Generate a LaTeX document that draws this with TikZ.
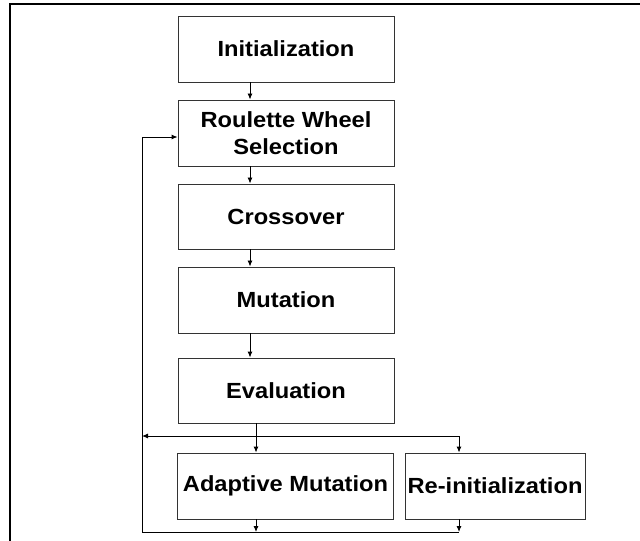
\documentclass[tikz,border=0pt]{standalone}
\usepackage{fontspec}
\setmainfont[FakeStretch=1.08]{Liberation Sans}
\usetikzlibrary{arrows.meta}
\begin{document}
\begin{tikzpicture}[x=1bp,y=-1bp,
  box/.style={draw=black!80, line width=0.9bp, inner sep=0pt, align=center,
    font=\fontsize{22}{27}\selectfont\bfseries, minimum height=66bp},
  mainbox/.style={box, minimum width=216bp},
  conn/.style={draw=black, line width=0.9bp},
  arr/.style={conn, -{Latex[length=6bp,width=5bp]}},
  frameline/.style={draw=black, line width=1.6bp}]
\useasboundingbox (0,0) rectangle (640,541);
\draw[frameline] (10,541) -- (10,4) -- (640,4);

\node[mainbox] (init) at (286,49) {Initialization};
\node[mainbox] (rws) at (286,133) {Roulette Wheel\\Selection};
\node[mainbox, minimum height=65bp] (cross) at (286,216.5) {Crossover};
\node[mainbox] (mut) at (286,300) {Mutation};
\node[mainbox, minimum height=65bp] (eval) at (286,390.5) {Evaluation};
\node[mainbox] (adapt) at (285.5,486) {Adaptive Mutation};
\node[box, minimum width=180bp] (reinit) at (495,486) {Re-initialization};

\coordinate (cx) at (250,0);
\coordinate (sp) at (256,436);
\coordinate (lj) at (142,436);
\coordinate (rj) at (459,436);
\coordinate (b1) at (256,532);
\coordinate (b2) at (459,532);
\coordinate (bl) at (142,532);
\coordinate (lt) at (142,137);

\draw[arr] (init.south -| cx) -- (rws.north -| cx);
\draw[arr] (rws.south -| cx) -- (cross.north -| cx);
\draw[arr] (cross.south -| cx) -- (mut.north -| cx);
\draw[arr] (mut.south -| cx) -- (eval.north -| cx);

\draw[conn] (eval.south -| sp) -- (sp);
\draw[arr] (sp) -- (adapt.north -| sp);
\draw[arr] (sp) -- (lj);
\draw[conn] (sp) -- (rj);
\draw[arr] (rj) -- (reinit.north -| rj);

\draw[arr] (adapt.south -| b1) -- (b1);
\draw[arr] (reinit.south -| b2) -- (b2);
\draw[arr] (b2) -- (bl) -- (lt) -- (rws.west |- lt);
\end{tikzpicture}
\end{document}
